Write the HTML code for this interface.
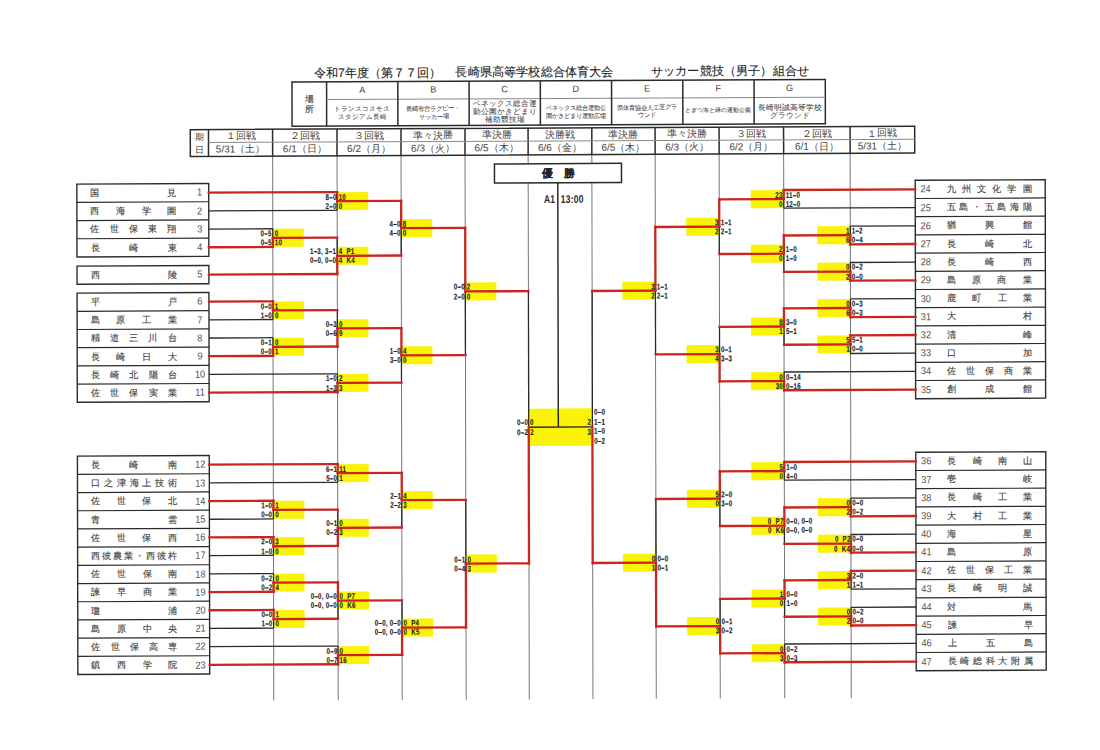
<!DOCTYPE html>
<html lang="ja"><head><meta charset="utf-8"><title>長崎県高校総体 サッカー競技（男子）組合せ</title>
<style>
html,body{margin:0;padding:0;background:#fff;}
body{width:1100px;height:750px;position:relative;overflow:hidden;font-family:"Liberation Sans",sans-serif;color:#333;}
#pg{position:absolute;left:0;top:0;width:1100px;height:750px;transform-origin:550px 375px;transform:matrix(1,-0.0046,0.0021,1,0,0);}
svg{position:absolute;left:0;top:0;}
.t{position:absolute;white-space:nowrap;text-spacing-trim:space-all;}
.ti{color:#222;-webkit-text-stroke:.1px #222;}
.g{color:#444;}
.vn{-webkit-text-stroke:.05px #444;}
.st2{-webkit-text-stroke:.2px #444;}
.n{color:#474747;-webkit-text-stroke:.15px #474747;}
.num{color:#505050;transform:scaleX(.9);}
.num.c{transform-origin:50% 50%;}
.b{font-weight:bold;color:#222;-webkit-text-stroke:.12px #222;}
.sc{font-weight:bold;color:#222;transform:scaleX(.74);letter-spacing:.35px;-webkit-text-stroke:.12px #222;}
.sc.l{transform-origin:0 50%;}
.sc.r{transform-origin:100% 50%;}
.sc2{font-weight:bold;color:#2a2a2a;transform:scaleX(.76);}
.sc2.l{transform-origin:0 50%;letter-spacing:.4px;}
.sc2.r{transform-origin:100% 50%;}
</style></head><body>
<div id="pg">
<svg width="1100" height="750" viewBox="0 0 1100 750">
<line x1="273.10" y1="154.80" x2="273.10" y2="699.30" stroke="#777777" stroke-width="1"/>
<line x1="337.50" y1="154.80" x2="337.50" y2="699.30" stroke="#777777" stroke-width="1"/>
<line x1="401.50" y1="154.80" x2="401.50" y2="699.30" stroke="#777777" stroke-width="1"/>
<line x1="465.50" y1="154.80" x2="465.50" y2="699.30" stroke="#777777" stroke-width="1"/>
<line x1="528.60" y1="154.80" x2="528.60" y2="699.30" stroke="#777777" stroke-width="1"/>
<line x1="592.30" y1="154.80" x2="592.30" y2="699.30" stroke="#777777" stroke-width="1"/>
<line x1="655.60" y1="154.80" x2="655.60" y2="699.30" stroke="#777777" stroke-width="1"/>
<line x1="719.60" y1="154.80" x2="719.60" y2="699.30" stroke="#777777" stroke-width="1"/>
<line x1="784.10" y1="154.80" x2="784.10" y2="699.30" stroke="#777777" stroke-width="1"/>
<line x1="850.60" y1="154.80" x2="850.60" y2="699.30" stroke="#777777" stroke-width="1"/>
<rect x="292.60" y="80.85" width="533.30" height="44.15" fill="#fff" stroke="#2b2b2b" stroke-width="1.5"/>
<line x1="327.20" y1="80.85" x2="327.20" y2="125.00" stroke="#2b2b2b" stroke-width="1.5"/>
<line x1="327.20" y1="98.60" x2="825.90" y2="98.60" stroke="#8a8a8a" stroke-width="1"/>
<line x1="398.44" y1="80.85" x2="398.44" y2="125.00" stroke="#2b2b2b" stroke-width="1.5"/>
<line x1="469.69" y1="80.85" x2="469.69" y2="125.00" stroke="#2b2b2b" stroke-width="1.5"/>
<line x1="540.93" y1="80.85" x2="540.93" y2="125.00" stroke="#2b2b2b" stroke-width="1.5"/>
<line x1="612.17" y1="80.85" x2="612.17" y2="125.00" stroke="#2b2b2b" stroke-width="1.5"/>
<line x1="683.41" y1="80.85" x2="683.41" y2="125.00" stroke="#2b2b2b" stroke-width="1.5"/>
<line x1="754.66" y1="80.85" x2="754.66" y2="125.00" stroke="#2b2b2b" stroke-width="1.5"/>
<rect x="190.80" y="128.00" width="724.40" height="26.80" fill="#fff" stroke="#2b2b2b" stroke-width="1.5"/>
<line x1="209.00" y1="128.00" x2="209.00" y2="154.80" stroke="#2b2b2b" stroke-width="1.5"/>
<line x1="273.10" y1="128.00" x2="273.10" y2="154.80" stroke="#2b2b2b" stroke-width="1.5"/>
<line x1="337.50" y1="128.00" x2="337.50" y2="154.80" stroke="#2b2b2b" stroke-width="1.5"/>
<line x1="401.50" y1="128.00" x2="401.50" y2="154.80" stroke="#2b2b2b" stroke-width="1.5"/>
<line x1="465.50" y1="128.00" x2="465.50" y2="154.80" stroke="#2b2b2b" stroke-width="1.5"/>
<line x1="528.60" y1="128.00" x2="528.60" y2="154.80" stroke="#2b2b2b" stroke-width="1.5"/>
<line x1="592.30" y1="128.00" x2="592.30" y2="154.80" stroke="#2b2b2b" stroke-width="1.5"/>
<line x1="655.60" y1="128.00" x2="655.60" y2="154.80" stroke="#2b2b2b" stroke-width="1.5"/>
<line x1="719.60" y1="128.00" x2="719.60" y2="154.80" stroke="#2b2b2b" stroke-width="1.5"/>
<line x1="784.10" y1="128.00" x2="784.10" y2="154.80" stroke="#2b2b2b" stroke-width="1.5"/>
<line x1="850.60" y1="128.00" x2="850.60" y2="154.80" stroke="#2b2b2b" stroke-width="1.5"/>
<line x1="209.00" y1="141.00" x2="915.20" y2="141.00" stroke="#8a8a8a" stroke-width="1"/>
<rect x="77.25" y="182.00" width="131.85" height="72.80" fill="#fff" stroke="#2b2b2b" stroke-width="1.4"/>
<line x1="77.25" y1="200.20" x2="209.10" y2="200.20" stroke="#2b2b2b" stroke-width="1.2"/>
<line x1="77.25" y1="218.40" x2="209.10" y2="218.40" stroke="#2b2b2b" stroke-width="1.2"/>
<line x1="77.25" y1="236.60" x2="209.10" y2="236.60" stroke="#2b2b2b" stroke-width="1.2"/>
<rect x="77.25" y="263.95" width="131.85" height="18.20" fill="#fff" stroke="#2b2b2b" stroke-width="1.4"/>
<rect x="77.25" y="290.95" width="131.85" height="109.20" fill="#fff" stroke="#2b2b2b" stroke-width="1.4"/>
<line x1="77.25" y1="309.15" x2="209.10" y2="309.15" stroke="#2b2b2b" stroke-width="1.2"/>
<line x1="77.25" y1="327.35" x2="209.10" y2="327.35" stroke="#2b2b2b" stroke-width="1.2"/>
<line x1="77.25" y1="345.55" x2="209.10" y2="345.55" stroke="#2b2b2b" stroke-width="1.2"/>
<line x1="77.25" y1="363.75" x2="209.10" y2="363.75" stroke="#2b2b2b" stroke-width="1.2"/>
<line x1="77.25" y1="381.95" x2="209.10" y2="381.95" stroke="#2b2b2b" stroke-width="1.2"/>
<rect x="77.25" y="454.00" width="131.85" height="218.40" fill="#fff" stroke="#2b2b2b" stroke-width="1.4"/>
<line x1="77.25" y1="472.20" x2="209.10" y2="472.20" stroke="#2b2b2b" stroke-width="1.2"/>
<line x1="77.25" y1="490.40" x2="209.10" y2="490.40" stroke="#2b2b2b" stroke-width="1.2"/>
<line x1="77.25" y1="508.60" x2="209.10" y2="508.60" stroke="#2b2b2b" stroke-width="1.2"/>
<line x1="77.25" y1="526.80" x2="209.10" y2="526.80" stroke="#2b2b2b" stroke-width="1.2"/>
<line x1="77.25" y1="545.00" x2="209.10" y2="545.00" stroke="#2b2b2b" stroke-width="1.2"/>
<line x1="77.25" y1="563.20" x2="209.10" y2="563.20" stroke="#2b2b2b" stroke-width="1.2"/>
<line x1="77.25" y1="581.40" x2="209.10" y2="581.40" stroke="#2b2b2b" stroke-width="1.2"/>
<line x1="77.25" y1="599.60" x2="209.10" y2="599.60" stroke="#2b2b2b" stroke-width="1.2"/>
<line x1="77.25" y1="617.80" x2="209.10" y2="617.80" stroke="#2b2b2b" stroke-width="1.2"/>
<line x1="77.25" y1="636.00" x2="209.10" y2="636.00" stroke="#2b2b2b" stroke-width="1.2"/>
<line x1="77.25" y1="654.20" x2="209.10" y2="654.20" stroke="#2b2b2b" stroke-width="1.2"/>
<rect x="915.60" y="182.00" width="130.00" height="218.40" fill="#fff" stroke="#2b2b2b" stroke-width="1.4"/>
<line x1="915.60" y1="200.20" x2="1045.60" y2="200.20" stroke="#2b2b2b" stroke-width="1.2"/>
<line x1="915.60" y1="218.40" x2="1045.60" y2="218.40" stroke="#2b2b2b" stroke-width="1.2"/>
<line x1="915.60" y1="236.60" x2="1045.60" y2="236.60" stroke="#2b2b2b" stroke-width="1.2"/>
<line x1="915.60" y1="254.80" x2="1045.60" y2="254.80" stroke="#2b2b2b" stroke-width="1.2"/>
<line x1="915.60" y1="273.00" x2="1045.60" y2="273.00" stroke="#2b2b2b" stroke-width="1.2"/>
<line x1="915.60" y1="291.20" x2="1045.60" y2="291.20" stroke="#2b2b2b" stroke-width="1.2"/>
<line x1="915.60" y1="309.40" x2="1045.60" y2="309.40" stroke="#2b2b2b" stroke-width="1.2"/>
<line x1="915.60" y1="327.60" x2="1045.60" y2="327.60" stroke="#2b2b2b" stroke-width="1.2"/>
<line x1="915.60" y1="345.80" x2="1045.60" y2="345.80" stroke="#2b2b2b" stroke-width="1.2"/>
<line x1="915.60" y1="364.00" x2="1045.60" y2="364.00" stroke="#2b2b2b" stroke-width="1.2"/>
<line x1="915.60" y1="382.20" x2="1045.60" y2="382.20" stroke="#2b2b2b" stroke-width="1.2"/>
<rect x="915.60" y="454.00" width="130.00" height="218.40" fill="#fff" stroke="#2b2b2b" stroke-width="1.4"/>
<line x1="915.60" y1="472.20" x2="1045.60" y2="472.20" stroke="#2b2b2b" stroke-width="1.2"/>
<line x1="915.60" y1="490.40" x2="1045.60" y2="490.40" stroke="#2b2b2b" stroke-width="1.2"/>
<line x1="915.60" y1="508.60" x2="1045.60" y2="508.60" stroke="#2b2b2b" stroke-width="1.2"/>
<line x1="915.60" y1="526.80" x2="1045.60" y2="526.80" stroke="#2b2b2b" stroke-width="1.2"/>
<line x1="915.60" y1="545.00" x2="1045.60" y2="545.00" stroke="#2b2b2b" stroke-width="1.2"/>
<line x1="915.60" y1="563.20" x2="1045.60" y2="563.20" stroke="#2b2b2b" stroke-width="1.2"/>
<line x1="915.60" y1="581.40" x2="1045.60" y2="581.40" stroke="#2b2b2b" stroke-width="1.2"/>
<line x1="915.60" y1="599.60" x2="1045.60" y2="599.60" stroke="#2b2b2b" stroke-width="1.2"/>
<line x1="915.60" y1="617.80" x2="1045.60" y2="617.80" stroke="#2b2b2b" stroke-width="1.2"/>
<line x1="915.60" y1="636.00" x2="1045.60" y2="636.00" stroke="#2b2b2b" stroke-width="1.2"/>
<line x1="915.60" y1="654.20" x2="1045.60" y2="654.20" stroke="#2b2b2b" stroke-width="1.2"/>
<rect x="273.10" y="227.60" width="31.00" height="18.00" fill="#fbf20a"/>
<rect x="273.10" y="300.15" width="31.00" height="18.00" fill="#fbf20a"/>
<rect x="273.10" y="336.55" width="31.00" height="18.00" fill="#fbf20a"/>
<rect x="273.10" y="499.60" width="31.00" height="18.00" fill="#fbf20a"/>
<rect x="273.10" y="536.00" width="31.00" height="18.00" fill="#fbf20a"/>
<rect x="273.10" y="572.40" width="31.00" height="18.00" fill="#fbf20a"/>
<rect x="273.10" y="608.80" width="31.00" height="18.00" fill="#fbf20a"/>
<rect x="337.50" y="191.20" width="31.00" height="18.00" fill="#fbf20a"/>
<rect x="337.50" y="245.82" width="31.00" height="18.00" fill="#fbf20a"/>
<rect x="337.50" y="318.35" width="31.00" height="18.00" fill="#fbf20a"/>
<rect x="337.50" y="372.95" width="31.00" height="18.00" fill="#fbf20a"/>
<rect x="337.50" y="463.20" width="31.00" height="18.00" fill="#fbf20a"/>
<rect x="337.50" y="517.80" width="31.00" height="18.00" fill="#fbf20a"/>
<rect x="337.50" y="590.60" width="31.00" height="18.00" fill="#fbf20a"/>
<rect x="337.50" y="645.20" width="31.00" height="18.00" fill="#fbf20a"/>
<rect x="401.50" y="218.51" width="31.00" height="18.00" fill="#fbf20a"/>
<rect x="401.50" y="345.65" width="31.00" height="18.00" fill="#fbf20a"/>
<rect x="401.50" y="490.50" width="31.00" height="18.00" fill="#fbf20a"/>
<rect x="401.50" y="617.90" width="31.00" height="18.00" fill="#fbf20a"/>
<rect x="465.50" y="282.08" width="31.00" height="18.00" fill="#fbf20a"/>
<rect x="465.50" y="554.20" width="31.00" height="18.00" fill="#fbf20a"/>
<rect x="817.60" y="227.60" width="33.00" height="18.00" fill="#fbf20a"/>
<rect x="817.60" y="264.00" width="33.00" height="18.00" fill="#fbf20a"/>
<rect x="817.60" y="300.40" width="33.00" height="18.00" fill="#fbf20a"/>
<rect x="817.60" y="336.80" width="33.00" height="18.00" fill="#fbf20a"/>
<rect x="817.60" y="499.60" width="33.00" height="18.00" fill="#fbf20a"/>
<rect x="817.60" y="536.00" width="33.00" height="18.00" fill="#fbf20a"/>
<rect x="817.60" y="572.40" width="33.00" height="18.00" fill="#fbf20a"/>
<rect x="817.60" y="608.80" width="33.00" height="18.00" fill="#fbf20a"/>
<rect x="751.10" y="191.20" width="33.00" height="18.00" fill="#fbf20a"/>
<rect x="751.10" y="245.80" width="33.00" height="18.00" fill="#fbf20a"/>
<rect x="751.10" y="318.60" width="33.00" height="18.00" fill="#fbf20a"/>
<rect x="751.10" y="373.20" width="33.00" height="18.00" fill="#fbf20a"/>
<rect x="751.10" y="463.20" width="33.00" height="18.00" fill="#fbf20a"/>
<rect x="751.10" y="517.80" width="33.00" height="18.00" fill="#fbf20a"/>
<rect x="751.10" y="590.60" width="33.00" height="18.00" fill="#fbf20a"/>
<rect x="751.10" y="645.20" width="33.00" height="18.00" fill="#fbf20a"/>
<rect x="686.60" y="218.50" width="33.00" height="18.00" fill="#fbf20a"/>
<rect x="686.60" y="345.90" width="33.00" height="18.00" fill="#fbf20a"/>
<rect x="686.60" y="490.50" width="33.00" height="18.00" fill="#fbf20a"/>
<rect x="686.60" y="617.90" width="33.00" height="18.00" fill="#fbf20a"/>
<rect x="622.60" y="282.20" width="33.00" height="18.00" fill="#fbf20a"/>
<rect x="622.60" y="554.20" width="33.00" height="18.00" fill="#fbf20a"/>
<rect x="528.60" y="408.54" width="63.70" height="37.30" fill="#fbf20a"/>
<line x1="209.10" y1="209.30" x2="337.50" y2="209.30" stroke="#2b2b2b" stroke-width="1.3"/>
<line x1="209.10" y1="227.50" x2="273.10" y2="227.50" stroke="#2b2b2b" stroke-width="1.3"/>
<line x1="209.10" y1="318.25" x2="273.10" y2="318.25" stroke="#2b2b2b" stroke-width="1.3"/>
<line x1="209.10" y1="336.45" x2="273.10" y2="336.45" stroke="#2b2b2b" stroke-width="1.3"/>
<line x1="209.10" y1="372.85" x2="337.50" y2="372.85" stroke="#2b2b2b" stroke-width="1.3"/>
<line x1="209.10" y1="481.30" x2="337.50" y2="481.30" stroke="#2b2b2b" stroke-width="1.3"/>
<line x1="209.10" y1="517.70" x2="273.10" y2="517.70" stroke="#2b2b2b" stroke-width="1.3"/>
<line x1="209.10" y1="554.10" x2="273.10" y2="554.10" stroke="#2b2b2b" stroke-width="1.3"/>
<line x1="209.10" y1="572.30" x2="273.10" y2="572.30" stroke="#2b2b2b" stroke-width="1.3"/>
<line x1="209.10" y1="626.90" x2="273.10" y2="626.90" stroke="#2b2b2b" stroke-width="1.3"/>
<line x1="209.10" y1="645.10" x2="337.50" y2="645.10" stroke="#2b2b2b" stroke-width="1.3"/>
<line x1="784.10" y1="209.30" x2="915.60" y2="209.30" stroke="#2b2b2b" stroke-width="1.3"/>
<line x1="850.60" y1="227.50" x2="915.60" y2="227.50" stroke="#2b2b2b" stroke-width="1.3"/>
<line x1="850.60" y1="263.90" x2="915.60" y2="263.90" stroke="#2b2b2b" stroke-width="1.3"/>
<line x1="850.60" y1="300.30" x2="915.60" y2="300.30" stroke="#2b2b2b" stroke-width="1.3"/>
<line x1="850.60" y1="354.90" x2="915.60" y2="354.90" stroke="#2b2b2b" stroke-width="1.3"/>
<line x1="784.10" y1="373.10" x2="915.60" y2="373.10" stroke="#2b2b2b" stroke-width="1.3"/>
<line x1="784.10" y1="481.30" x2="915.60" y2="481.30" stroke="#2b2b2b" stroke-width="1.3"/>
<line x1="850.60" y1="499.50" x2="915.60" y2="499.50" stroke="#2b2b2b" stroke-width="1.3"/>
<line x1="850.60" y1="535.90" x2="915.60" y2="535.90" stroke="#2b2b2b" stroke-width="1.3"/>
<line x1="850.60" y1="590.50" x2="915.60" y2="590.50" stroke="#2b2b2b" stroke-width="1.3"/>
<line x1="850.60" y1="608.70" x2="915.60" y2="608.70" stroke="#2b2b2b" stroke-width="1.3"/>
<line x1="784.10" y1="645.10" x2="915.60" y2="645.10" stroke="#2b2b2b" stroke-width="1.3"/>
<line x1="273.10" y1="227.50" x2="273.10" y2="236.60" stroke="#2b2b2b" stroke-width="1.3"/>
<line x1="273.10" y1="309.15" x2="273.10" y2="318.25" stroke="#2b2b2b" stroke-width="1.3"/>
<line x1="273.10" y1="336.45" x2="273.10" y2="345.55" stroke="#2b2b2b" stroke-width="1.3"/>
<line x1="273.10" y1="508.60" x2="273.10" y2="517.70" stroke="#2b2b2b" stroke-width="1.3"/>
<line x1="273.10" y1="545.00" x2="273.10" y2="554.10" stroke="#2b2b2b" stroke-width="1.3"/>
<line x1="273.10" y1="572.30" x2="273.10" y2="581.40" stroke="#2b2b2b" stroke-width="1.3"/>
<line x1="273.10" y1="617.80" x2="273.10" y2="626.90" stroke="#2b2b2b" stroke-width="1.3"/>
<line x1="337.50" y1="200.20" x2="337.50" y2="209.30" stroke="#2b2b2b" stroke-width="1.3"/>
<line x1="337.50" y1="236.60" x2="337.50" y2="254.82" stroke="#2b2b2b" stroke-width="1.3"/>
<line x1="337.50" y1="309.15" x2="337.50" y2="327.35" stroke="#2b2b2b" stroke-width="1.3"/>
<line x1="337.50" y1="372.85" x2="337.50" y2="381.95" stroke="#2b2b2b" stroke-width="1.3"/>
<line x1="337.50" y1="472.20" x2="337.50" y2="481.30" stroke="#2b2b2b" stroke-width="1.3"/>
<line x1="337.50" y1="508.60" x2="337.50" y2="526.80" stroke="#2b2b2b" stroke-width="1.3"/>
<line x1="337.50" y1="599.60" x2="337.50" y2="617.80" stroke="#2b2b2b" stroke-width="1.3"/>
<line x1="337.50" y1="645.10" x2="337.50" y2="654.20" stroke="#2b2b2b" stroke-width="1.3"/>
<line x1="401.50" y1="227.51" x2="401.50" y2="254.82" stroke="#2b2b2b" stroke-width="1.3"/>
<line x1="401.50" y1="354.65" x2="401.50" y2="381.95" stroke="#2b2b2b" stroke-width="1.3"/>
<line x1="401.50" y1="499.50" x2="401.50" y2="526.80" stroke="#2b2b2b" stroke-width="1.3"/>
<line x1="401.50" y1="599.60" x2="401.50" y2="626.90" stroke="#2b2b2b" stroke-width="1.3"/>
<line x1="465.50" y1="291.08" x2="465.50" y2="354.65" stroke="#2b2b2b" stroke-width="1.3"/>
<line x1="465.50" y1="499.50" x2="465.50" y2="563.20" stroke="#2b2b2b" stroke-width="1.3"/>
<line x1="850.60" y1="227.50" x2="850.60" y2="236.60" stroke="#2b2b2b" stroke-width="1.3"/>
<line x1="850.60" y1="263.90" x2="850.60" y2="273.00" stroke="#2b2b2b" stroke-width="1.3"/>
<line x1="850.60" y1="300.30" x2="850.60" y2="309.40" stroke="#2b2b2b" stroke-width="1.3"/>
<line x1="850.60" y1="345.80" x2="850.60" y2="354.90" stroke="#2b2b2b" stroke-width="1.3"/>
<line x1="850.60" y1="499.50" x2="850.60" y2="508.60" stroke="#2b2b2b" stroke-width="1.3"/>
<line x1="850.60" y1="535.90" x2="850.60" y2="545.00" stroke="#2b2b2b" stroke-width="1.3"/>
<line x1="850.60" y1="581.40" x2="850.60" y2="590.50" stroke="#2b2b2b" stroke-width="1.3"/>
<line x1="850.60" y1="608.70" x2="850.60" y2="617.80" stroke="#2b2b2b" stroke-width="1.3"/>
<line x1="784.10" y1="200.20" x2="784.10" y2="209.30" stroke="#2b2b2b" stroke-width="1.3"/>
<line x1="784.10" y1="254.80" x2="784.10" y2="273.00" stroke="#2b2b2b" stroke-width="1.3"/>
<line x1="784.10" y1="327.60" x2="784.10" y2="345.80" stroke="#2b2b2b" stroke-width="1.3"/>
<line x1="784.10" y1="373.10" x2="784.10" y2="382.20" stroke="#2b2b2b" stroke-width="1.3"/>
<line x1="784.10" y1="472.20" x2="784.10" y2="481.30" stroke="#2b2b2b" stroke-width="1.3"/>
<line x1="784.10" y1="526.80" x2="784.10" y2="545.00" stroke="#2b2b2b" stroke-width="1.3"/>
<line x1="784.10" y1="599.60" x2="784.10" y2="617.80" stroke="#2b2b2b" stroke-width="1.3"/>
<line x1="784.10" y1="645.10" x2="784.10" y2="654.20" stroke="#2b2b2b" stroke-width="1.3"/>
<line x1="719.60" y1="227.50" x2="719.60" y2="254.80" stroke="#2b2b2b" stroke-width="1.3"/>
<line x1="719.60" y1="327.60" x2="719.60" y2="354.90" stroke="#2b2b2b" stroke-width="1.3"/>
<line x1="719.60" y1="499.50" x2="719.60" y2="526.80" stroke="#2b2b2b" stroke-width="1.3"/>
<line x1="719.60" y1="599.60" x2="719.60" y2="626.90" stroke="#2b2b2b" stroke-width="1.3"/>
<line x1="655.60" y1="291.20" x2="655.60" y2="354.90" stroke="#2b2b2b" stroke-width="1.3"/>
<line x1="655.60" y1="499.50" x2="655.60" y2="563.20" stroke="#2b2b2b" stroke-width="1.3"/>
<line x1="528.60" y1="291.08" x2="528.60" y2="427.14" stroke="#2b2b2b" stroke-width="1.3"/>
<line x1="592.30" y1="291.20" x2="592.30" y2="427.14" stroke="#2b2b2b" stroke-width="1.3"/>
<line x1="528.60" y1="427.14" x2="592.30" y2="427.14" stroke="#2b2b2b" stroke-width="1.3"/>
<line x1="209.10" y1="191.10" x2="337.50" y2="191.10" stroke="#c8261e" stroke-width="2.3" stroke-linecap="square"/>
<line x1="209.10" y1="245.70" x2="273.10" y2="245.70" stroke="#c8261e" stroke-width="2.3" stroke-linecap="square"/>
<line x1="209.10" y1="273.05" x2="337.50" y2="273.05" stroke="#c8261e" stroke-width="2.3" stroke-linecap="square"/>
<line x1="209.10" y1="300.05" x2="273.10" y2="300.05" stroke="#c8261e" stroke-width="2.3" stroke-linecap="square"/>
<line x1="209.10" y1="354.65" x2="273.10" y2="354.65" stroke="#c8261e" stroke-width="2.3" stroke-linecap="square"/>
<line x1="209.10" y1="391.05" x2="337.50" y2="391.05" stroke="#c8261e" stroke-width="2.3" stroke-linecap="square"/>
<line x1="209.10" y1="463.10" x2="337.50" y2="463.10" stroke="#c8261e" stroke-width="2.3" stroke-linecap="square"/>
<line x1="209.10" y1="499.50" x2="273.10" y2="499.50" stroke="#c8261e" stroke-width="2.3" stroke-linecap="square"/>
<line x1="209.10" y1="535.90" x2="273.10" y2="535.90" stroke="#c8261e" stroke-width="2.3" stroke-linecap="square"/>
<line x1="209.10" y1="590.50" x2="273.10" y2="590.50" stroke="#c8261e" stroke-width="2.3" stroke-linecap="square"/>
<line x1="209.10" y1="608.70" x2="273.10" y2="608.70" stroke="#c8261e" stroke-width="2.3" stroke-linecap="square"/>
<line x1="209.10" y1="663.30" x2="337.50" y2="663.30" stroke="#c8261e" stroke-width="2.3" stroke-linecap="square"/>
<line x1="784.10" y1="191.10" x2="915.60" y2="191.10" stroke="#c8261e" stroke-width="2.3" stroke-linecap="square"/>
<line x1="850.60" y1="245.70" x2="915.60" y2="245.70" stroke="#c8261e" stroke-width="2.3" stroke-linecap="square"/>
<line x1="850.60" y1="282.10" x2="915.60" y2="282.10" stroke="#c8261e" stroke-width="2.3" stroke-linecap="square"/>
<line x1="850.60" y1="318.50" x2="915.60" y2="318.50" stroke="#c8261e" stroke-width="2.3" stroke-linecap="square"/>
<line x1="850.60" y1="336.70" x2="915.60" y2="336.70" stroke="#c8261e" stroke-width="2.3" stroke-linecap="square"/>
<line x1="784.10" y1="391.30" x2="915.60" y2="391.30" stroke="#c8261e" stroke-width="2.3" stroke-linecap="square"/>
<line x1="784.10" y1="463.10" x2="915.60" y2="463.10" stroke="#c8261e" stroke-width="2.3" stroke-linecap="square"/>
<line x1="850.60" y1="517.70" x2="915.60" y2="517.70" stroke="#c8261e" stroke-width="2.3" stroke-linecap="square"/>
<line x1="850.60" y1="554.10" x2="915.60" y2="554.10" stroke="#c8261e" stroke-width="2.3" stroke-linecap="square"/>
<line x1="850.60" y1="572.30" x2="915.60" y2="572.30" stroke="#c8261e" stroke-width="2.3" stroke-linecap="square"/>
<line x1="850.60" y1="626.90" x2="915.60" y2="626.90" stroke="#c8261e" stroke-width="2.3" stroke-linecap="square"/>
<line x1="784.10" y1="663.30" x2="915.60" y2="663.30" stroke="#c8261e" stroke-width="2.3" stroke-linecap="square"/>
<line x1="273.10" y1="236.60" x2="273.10" y2="245.70" stroke="#c8261e" stroke-width="2.3" stroke-linecap="square"/>
<line x1="273.10" y1="236.60" x2="337.50" y2="236.60" stroke="#c8261e" stroke-width="2.3" stroke-linecap="square"/>
<line x1="273.10" y1="300.05" x2="273.10" y2="309.15" stroke="#c8261e" stroke-width="2.3" stroke-linecap="square"/>
<line x1="273.10" y1="309.15" x2="337.50" y2="309.15" stroke="#c8261e" stroke-width="2.3" stroke-linecap="square"/>
<line x1="273.10" y1="345.55" x2="273.10" y2="354.65" stroke="#c8261e" stroke-width="2.3" stroke-linecap="square"/>
<line x1="273.10" y1="345.55" x2="337.50" y2="345.55" stroke="#c8261e" stroke-width="2.3" stroke-linecap="square"/>
<line x1="273.10" y1="499.50" x2="273.10" y2="508.60" stroke="#c8261e" stroke-width="2.3" stroke-linecap="square"/>
<line x1="273.10" y1="508.60" x2="337.50" y2="508.60" stroke="#c8261e" stroke-width="2.3" stroke-linecap="square"/>
<line x1="273.10" y1="535.90" x2="273.10" y2="545.00" stroke="#c8261e" stroke-width="2.3" stroke-linecap="square"/>
<line x1="273.10" y1="545.00" x2="337.50" y2="545.00" stroke="#c8261e" stroke-width="2.3" stroke-linecap="square"/>
<line x1="273.10" y1="581.40" x2="273.10" y2="590.50" stroke="#c8261e" stroke-width="2.3" stroke-linecap="square"/>
<line x1="273.10" y1="581.40" x2="337.50" y2="581.40" stroke="#c8261e" stroke-width="2.3" stroke-linecap="square"/>
<line x1="273.10" y1="608.70" x2="273.10" y2="617.80" stroke="#c8261e" stroke-width="2.3" stroke-linecap="square"/>
<line x1="273.10" y1="617.80" x2="337.50" y2="617.80" stroke="#c8261e" stroke-width="2.3" stroke-linecap="square"/>
<line x1="337.50" y1="191.10" x2="337.50" y2="200.20" stroke="#c8261e" stroke-width="2.3" stroke-linecap="square"/>
<line x1="337.50" y1="200.20" x2="401.50" y2="200.20" stroke="#c8261e" stroke-width="2.3" stroke-linecap="square"/>
<line x1="337.50" y1="254.82" x2="337.50" y2="273.05" stroke="#c8261e" stroke-width="2.3" stroke-linecap="square"/>
<line x1="337.50" y1="254.82" x2="401.50" y2="254.82" stroke="#c8261e" stroke-width="2.3" stroke-linecap="square"/>
<line x1="337.50" y1="327.35" x2="337.50" y2="345.55" stroke="#c8261e" stroke-width="2.3" stroke-linecap="square"/>
<line x1="337.50" y1="327.35" x2="401.50" y2="327.35" stroke="#c8261e" stroke-width="2.3" stroke-linecap="square"/>
<line x1="337.50" y1="381.95" x2="337.50" y2="391.05" stroke="#c8261e" stroke-width="2.3" stroke-linecap="square"/>
<line x1="337.50" y1="381.95" x2="401.50" y2="381.95" stroke="#c8261e" stroke-width="2.3" stroke-linecap="square"/>
<line x1="337.50" y1="463.10" x2="337.50" y2="472.20" stroke="#c8261e" stroke-width="2.3" stroke-linecap="square"/>
<line x1="337.50" y1="472.20" x2="401.50" y2="472.20" stroke="#c8261e" stroke-width="2.3" stroke-linecap="square"/>
<line x1="337.50" y1="526.80" x2="337.50" y2="545.00" stroke="#c8261e" stroke-width="2.3" stroke-linecap="square"/>
<line x1="337.50" y1="526.80" x2="401.50" y2="526.80" stroke="#c8261e" stroke-width="2.3" stroke-linecap="square"/>
<line x1="337.50" y1="581.40" x2="337.50" y2="599.60" stroke="#c8261e" stroke-width="2.3" stroke-linecap="square"/>
<line x1="337.50" y1="599.60" x2="401.50" y2="599.60" stroke="#c8261e" stroke-width="2.3" stroke-linecap="square"/>
<line x1="337.50" y1="654.20" x2="337.50" y2="663.30" stroke="#c8261e" stroke-width="2.3" stroke-linecap="square"/>
<line x1="337.50" y1="654.20" x2="401.50" y2="654.20" stroke="#c8261e" stroke-width="2.3" stroke-linecap="square"/>
<line x1="401.50" y1="200.20" x2="401.50" y2="227.51" stroke="#c8261e" stroke-width="2.3" stroke-linecap="square"/>
<line x1="401.50" y1="227.51" x2="465.50" y2="227.51" stroke="#c8261e" stroke-width="2.3" stroke-linecap="square"/>
<line x1="401.50" y1="327.35" x2="401.50" y2="354.65" stroke="#c8261e" stroke-width="2.3" stroke-linecap="square"/>
<line x1="401.50" y1="354.65" x2="465.50" y2="354.65" stroke="#c8261e" stroke-width="2.3" stroke-linecap="square"/>
<line x1="401.50" y1="472.20" x2="401.50" y2="499.50" stroke="#c8261e" stroke-width="2.3" stroke-linecap="square"/>
<line x1="401.50" y1="499.50" x2="465.50" y2="499.50" stroke="#c8261e" stroke-width="2.3" stroke-linecap="square"/>
<line x1="401.50" y1="626.90" x2="401.50" y2="654.20" stroke="#c8261e" stroke-width="2.3" stroke-linecap="square"/>
<line x1="401.50" y1="626.90" x2="465.50" y2="626.90" stroke="#c8261e" stroke-width="2.3" stroke-linecap="square"/>
<line x1="465.50" y1="227.51" x2="465.50" y2="291.08" stroke="#c8261e" stroke-width="2.3" stroke-linecap="square"/>
<line x1="465.50" y1="291.08" x2="528.60" y2="291.08" stroke="#c8261e" stroke-width="2.3" stroke-linecap="square"/>
<line x1="465.50" y1="563.20" x2="465.50" y2="626.90" stroke="#c8261e" stroke-width="2.3" stroke-linecap="square"/>
<line x1="465.50" y1="563.20" x2="528.60" y2="563.20" stroke="#c8261e" stroke-width="2.3" stroke-linecap="square"/>
<line x1="850.60" y1="236.60" x2="850.60" y2="245.70" stroke="#c8261e" stroke-width="2.3" stroke-linecap="square"/>
<line x1="784.10" y1="236.60" x2="850.60" y2="236.60" stroke="#c8261e" stroke-width="2.3" stroke-linecap="square"/>
<line x1="850.60" y1="273.00" x2="850.60" y2="282.10" stroke="#c8261e" stroke-width="2.3" stroke-linecap="square"/>
<line x1="784.10" y1="273.00" x2="850.60" y2="273.00" stroke="#c8261e" stroke-width="2.3" stroke-linecap="square"/>
<line x1="850.60" y1="309.40" x2="850.60" y2="318.50" stroke="#c8261e" stroke-width="2.3" stroke-linecap="square"/>
<line x1="784.10" y1="309.40" x2="850.60" y2="309.40" stroke="#c8261e" stroke-width="2.3" stroke-linecap="square"/>
<line x1="850.60" y1="336.70" x2="850.60" y2="345.80" stroke="#c8261e" stroke-width="2.3" stroke-linecap="square"/>
<line x1="784.10" y1="345.80" x2="850.60" y2="345.80" stroke="#c8261e" stroke-width="2.3" stroke-linecap="square"/>
<line x1="850.60" y1="508.60" x2="850.60" y2="517.70" stroke="#c8261e" stroke-width="2.3" stroke-linecap="square"/>
<line x1="784.10" y1="508.60" x2="850.60" y2="508.60" stroke="#c8261e" stroke-width="2.3" stroke-linecap="square"/>
<line x1="850.60" y1="545.00" x2="850.60" y2="554.10" stroke="#c8261e" stroke-width="2.3" stroke-linecap="square"/>
<line x1="784.10" y1="545.00" x2="850.60" y2="545.00" stroke="#c8261e" stroke-width="2.3" stroke-linecap="square"/>
<line x1="850.60" y1="572.30" x2="850.60" y2="581.40" stroke="#c8261e" stroke-width="2.3" stroke-linecap="square"/>
<line x1="784.10" y1="581.40" x2="850.60" y2="581.40" stroke="#c8261e" stroke-width="2.3" stroke-linecap="square"/>
<line x1="850.60" y1="617.80" x2="850.60" y2="626.90" stroke="#c8261e" stroke-width="2.3" stroke-linecap="square"/>
<line x1="784.10" y1="617.80" x2="850.60" y2="617.80" stroke="#c8261e" stroke-width="2.3" stroke-linecap="square"/>
<line x1="784.10" y1="191.10" x2="784.10" y2="200.20" stroke="#c8261e" stroke-width="2.3" stroke-linecap="square"/>
<line x1="719.60" y1="200.20" x2="784.10" y2="200.20" stroke="#c8261e" stroke-width="2.3" stroke-linecap="square"/>
<line x1="784.10" y1="236.60" x2="784.10" y2="254.80" stroke="#c8261e" stroke-width="2.3" stroke-linecap="square"/>
<line x1="719.60" y1="254.80" x2="784.10" y2="254.80" stroke="#c8261e" stroke-width="2.3" stroke-linecap="square"/>
<line x1="784.10" y1="309.40" x2="784.10" y2="327.60" stroke="#c8261e" stroke-width="2.3" stroke-linecap="square"/>
<line x1="719.60" y1="327.60" x2="784.10" y2="327.60" stroke="#c8261e" stroke-width="2.3" stroke-linecap="square"/>
<line x1="784.10" y1="382.20" x2="784.10" y2="391.30" stroke="#c8261e" stroke-width="2.3" stroke-linecap="square"/>
<line x1="719.60" y1="382.20" x2="784.10" y2="382.20" stroke="#c8261e" stroke-width="2.3" stroke-linecap="square"/>
<line x1="784.10" y1="463.10" x2="784.10" y2="472.20" stroke="#c8261e" stroke-width="2.3" stroke-linecap="square"/>
<line x1="719.60" y1="472.20" x2="784.10" y2="472.20" stroke="#c8261e" stroke-width="2.3" stroke-linecap="square"/>
<line x1="784.10" y1="508.60" x2="784.10" y2="526.80" stroke="#c8261e" stroke-width="2.3" stroke-linecap="square"/>
<line x1="719.60" y1="526.80" x2="784.10" y2="526.80" stroke="#c8261e" stroke-width="2.3" stroke-linecap="square"/>
<line x1="784.10" y1="581.40" x2="784.10" y2="599.60" stroke="#c8261e" stroke-width="2.3" stroke-linecap="square"/>
<line x1="719.60" y1="599.60" x2="784.10" y2="599.60" stroke="#c8261e" stroke-width="2.3" stroke-linecap="square"/>
<line x1="784.10" y1="654.20" x2="784.10" y2="663.30" stroke="#c8261e" stroke-width="2.3" stroke-linecap="square"/>
<line x1="719.60" y1="654.20" x2="784.10" y2="654.20" stroke="#c8261e" stroke-width="2.3" stroke-linecap="square"/>
<line x1="719.60" y1="200.20" x2="719.60" y2="227.50" stroke="#c8261e" stroke-width="2.3" stroke-linecap="square"/>
<line x1="655.60" y1="227.50" x2="719.60" y2="227.50" stroke="#c8261e" stroke-width="2.3" stroke-linecap="square"/>
<line x1="719.60" y1="354.90" x2="719.60" y2="382.20" stroke="#c8261e" stroke-width="2.3" stroke-linecap="square"/>
<line x1="655.60" y1="354.90" x2="719.60" y2="354.90" stroke="#c8261e" stroke-width="2.3" stroke-linecap="square"/>
<line x1="719.60" y1="472.20" x2="719.60" y2="499.50" stroke="#c8261e" stroke-width="2.3" stroke-linecap="square"/>
<line x1="655.60" y1="499.50" x2="719.60" y2="499.50" stroke="#c8261e" stroke-width="2.3" stroke-linecap="square"/>
<line x1="719.60" y1="626.90" x2="719.60" y2="654.20" stroke="#c8261e" stroke-width="2.3" stroke-linecap="square"/>
<line x1="655.60" y1="626.90" x2="719.60" y2="626.90" stroke="#c8261e" stroke-width="2.3" stroke-linecap="square"/>
<line x1="655.60" y1="227.50" x2="655.60" y2="291.20" stroke="#c8261e" stroke-width="2.3" stroke-linecap="square"/>
<line x1="592.30" y1="291.20" x2="655.60" y2="291.20" stroke="#c8261e" stroke-width="2.3" stroke-linecap="square"/>
<line x1="655.60" y1="563.20" x2="655.60" y2="626.90" stroke="#c8261e" stroke-width="2.3" stroke-linecap="square"/>
<line x1="592.30" y1="563.20" x2="655.60" y2="563.20" stroke="#c8261e" stroke-width="2.3" stroke-linecap="square"/>
<line x1="528.60" y1="427.14" x2="528.60" y2="563.20" stroke="#c8261e" stroke-width="2.3" stroke-linecap="square"/>
<line x1="592.30" y1="427.14" x2="592.30" y2="563.20" stroke="#c8261e" stroke-width="2.3" stroke-linecap="square"/>
<line x1="558.20" y1="182.80" x2="558.20" y2="427.14" stroke="#2b2b2b" stroke-width="1.5"/>
<rect x="494.90" y="163.70" width="127.00" height="19.10" fill="#fff" stroke="#2b2b2b" stroke-width="1.5"/>
</svg>
<div class="t ti" style="left:314.60px;width:122.00px;text-align:justify;text-align-last:justify;top:65.48px;font-size:12.2px;line-height:14.64px;">令和7年度（第７７回）</div>
<div class="t ti" style="left:456.10px;width:158.00px;text-align:justify;text-align-last:justify;top:65.48px;font-size:12.2px;line-height:14.64px;">長崎県高等学校総合体育大会</div>
<div class="t ti" style="left:651.60px;width:158.00px;text-align:justify;text-align-last:justify;top:65.48px;font-size:12.2px;line-height:14.64px;">サッカー競技（男子）組合せ</div>
<div class="t g" style="left:262.82px;width:200px;text-align:center;top:84.18px;font-size:9.2px;line-height:11.04px;">A</div>
<div class="t g vn" style="left:262.82px;width:200px;text-align:center;top:103.84px;font-size:6.5px;line-height:7.80px;">トランスコスモス</div>
<div class="t g vn" style="left:262.82px;width:200px;text-align:center;top:111.74px;font-size:6.5px;line-height:7.80px;">スタジアム長崎</div>
<div class="t g" style="left:334.06px;width:200px;text-align:center;top:84.18px;font-size:9.2px;line-height:11.04px;">B</div>
<div class="t g vn" style="left:334.06px;width:200px;text-align:center;top:104.29px;font-size:6.3px;line-height:7.56px;">長崎市営ラグビー・</div>
<div class="t g vn" style="left:334.06px;width:200px;text-align:center;top:112.19px;font-size:6.3px;line-height:7.56px;">サッカー場</div>
<div class="t g" style="left:405.31px;width:200px;text-align:center;top:84.18px;font-size:9.2px;line-height:11.04px;">C</div>
<div class="t g vn" style="left:405.31px;width:200px;text-align:center;top:99.43px;font-size:7.6px;line-height:9.12px;">ベネックス総合運</div>
<div class="t g vn" style="left:405.31px;width:200px;text-align:center;top:107.33px;font-size:7.6px;line-height:9.12px;">動公園かきどまり</div>
<div class="t g vn" style="left:405.31px;width:200px;text-align:center;top:115.43px;font-size:7.6px;line-height:9.12px;">補助競技場</div>
<div class="t g" style="left:476.55px;width:200px;text-align:center;top:84.18px;font-size:9.2px;line-height:11.04px;">D</div>
<div class="t g vn" style="left:476.55px;width:200px;text-align:center;top:104.40px;font-size:6.2px;line-height:7.44px;">ベネックス総合運動公</div>
<div class="t g vn" style="left:476.55px;width:200px;text-align:center;top:112.20px;font-size:6.2px;line-height:7.44px;">園かきどまり運動広場</div>
<div class="t g" style="left:547.79px;width:200px;text-align:center;top:84.18px;font-size:9.2px;line-height:11.04px;">E</div>
<div class="t g vn" style="left:547.79px;width:200px;text-align:center;top:104.27px;font-size:6.3px;line-height:7.56px;">県体育協会人工芝グラ</div>
<div class="t g vn" style="left:547.79px;width:200px;text-align:center;top:111.47px;font-size:6.3px;line-height:7.56px;">ウンド</div>
<div class="t g" style="left:619.04px;width:200px;text-align:center;top:84.18px;font-size:9.2px;line-height:11.04px;">F</div>
<div class="t g vn" style="left:619.04px;width:200px;text-align:center;top:108.10px;font-size:5.8px;line-height:6.96px;">とぎつ海と緑の運動公園</div>
<div class="t g" style="left:690.28px;width:200px;text-align:center;top:84.18px;font-size:9.2px;line-height:11.04px;">G</div>
<div class="t g vn" style="left:690.28px;width:200px;text-align:center;top:103.79px;font-size:7.7px;line-height:9.24px;">長崎明誠高等学校</div>
<div class="t g vn" style="left:690.28px;width:200px;text-align:center;top:112.09px;font-size:7.7px;line-height:9.24px;">グラウンド</div>
<div class="t g st2" style="left:209.90px;width:200px;text-align:center;top:92.52px;font-size:8.8px;line-height:10.56px;">場</div>
<div class="t g st2" style="left:209.90px;width:200px;text-align:center;top:102.72px;font-size:8.8px;line-height:10.56px;">所</div>
<div class="t g" style="left:141.05px;width:200px;text-align:center;top:129.00px;font-size:10px;line-height:12.00px;">１回戦</div>
<div class="t g" style="left:141.05px;width:200px;text-align:center;top:142.40px;font-size:10px;line-height:12.00px;">5/31（土）</div>
<div class="t g" style="left:205.30px;width:200px;text-align:center;top:129.00px;font-size:10px;line-height:12.00px;">２回戦</div>
<div class="t g" style="left:205.30px;width:200px;text-align:center;top:142.40px;font-size:10px;line-height:12.00px;">6/1（日）</div>
<div class="t g" style="left:269.50px;width:200px;text-align:center;top:129.00px;font-size:10px;line-height:12.00px;">３回戦</div>
<div class="t g" style="left:269.50px;width:200px;text-align:center;top:142.40px;font-size:10px;line-height:12.00px;">6/2（月）</div>
<div class="t g" style="left:333.50px;width:200px;text-align:center;top:129.00px;font-size:10px;line-height:12.00px;">準々決勝</div>
<div class="t g" style="left:333.50px;width:200px;text-align:center;top:142.40px;font-size:10px;line-height:12.00px;">6/3（火）</div>
<div class="t g" style="left:397.05px;width:200px;text-align:center;top:129.00px;font-size:10px;line-height:12.00px;">準決勝</div>
<div class="t g" style="left:397.05px;width:200px;text-align:center;top:142.40px;font-size:10px;line-height:12.00px;">6/5（木）</div>
<div class="t g" style="left:460.45px;width:200px;text-align:center;top:129.00px;font-size:10px;line-height:12.00px;">決勝戦</div>
<div class="t g" style="left:460.45px;width:200px;text-align:center;top:142.40px;font-size:10px;line-height:12.00px;">6/6（金）</div>
<div class="t g" style="left:523.95px;width:200px;text-align:center;top:129.00px;font-size:10px;line-height:12.00px;">準決勝</div>
<div class="t g" style="left:523.95px;width:200px;text-align:center;top:142.40px;font-size:10px;line-height:12.00px;">6/5（木）</div>
<div class="t g" style="left:587.60px;width:200px;text-align:center;top:129.00px;font-size:10px;line-height:12.00px;">準々決勝</div>
<div class="t g" style="left:587.60px;width:200px;text-align:center;top:142.40px;font-size:10px;line-height:12.00px;">6/3（火）</div>
<div class="t g" style="left:651.85px;width:200px;text-align:center;top:129.00px;font-size:10px;line-height:12.00px;">３回戦</div>
<div class="t g" style="left:651.85px;width:200px;text-align:center;top:142.40px;font-size:10px;line-height:12.00px;">6/2（月）</div>
<div class="t g" style="left:717.35px;width:200px;text-align:center;top:129.00px;font-size:10px;line-height:12.00px;">２回戦</div>
<div class="t g" style="left:717.35px;width:200px;text-align:center;top:142.40px;font-size:10px;line-height:12.00px;">6/1（日）</div>
<div class="t g" style="left:782.90px;width:200px;text-align:center;top:129.00px;font-size:10px;line-height:12.00px;">１回戦</div>
<div class="t g" style="left:782.90px;width:200px;text-align:center;top:142.40px;font-size:10px;line-height:12.00px;">5/31（土）</div>
<div class="t g" style="left:100.00px;width:200px;text-align:center;top:129.50px;font-size:9px;line-height:10.80px;">期</div>
<div class="t g" style="left:100.00px;width:200px;text-align:center;top:142.50px;font-size:9px;line-height:10.80px;">日</div>
<div class="t n" style="left:90.80px;width:86.00px;text-align:justify;text-align-last:justify;top:186.08px;font-size:9.2px;line-height:11.04px;">国見</div>
<div class="t num c" style="left:100.20px;width:200px;text-align:center;top:185.38px;font-size:10.2px;line-height:12.24px;">1</div>
<div class="t n" style="left:90.80px;width:86.00px;text-align:justify;text-align-last:justify;top:204.28px;font-size:9.2px;line-height:11.04px;">西海学園</div>
<div class="t num c" style="left:100.20px;width:200px;text-align:center;top:203.58px;font-size:10.2px;line-height:12.24px;">2</div>
<div class="t n" style="left:90.80px;width:86.00px;text-align:justify;text-align-last:justify;top:222.48px;font-size:9.2px;line-height:11.04px;">佐世保東翔</div>
<div class="t num c" style="left:100.20px;width:200px;text-align:center;top:221.78px;font-size:10.2px;line-height:12.24px;">3</div>
<div class="t n" style="left:90.80px;width:86.00px;text-align:justify;text-align-last:justify;top:240.68px;font-size:9.2px;line-height:11.04px;">長崎東</div>
<div class="t num c" style="left:100.20px;width:200px;text-align:center;top:239.98px;font-size:10.2px;line-height:12.24px;">4</div>
<div class="t n" style="left:90.80px;width:86.00px;text-align:justify;text-align-last:justify;top:268.03px;font-size:9.2px;line-height:11.04px;">西陵</div>
<div class="t num c" style="left:100.20px;width:200px;text-align:center;top:267.33px;font-size:10.2px;line-height:12.24px;">5</div>
<div class="t n" style="left:90.80px;width:86.00px;text-align:justify;text-align-last:justify;top:295.03px;font-size:9.2px;line-height:11.04px;">平戸</div>
<div class="t num c" style="left:100.20px;width:200px;text-align:center;top:294.33px;font-size:10.2px;line-height:12.24px;">6</div>
<div class="t n" style="left:90.80px;width:86.00px;text-align:justify;text-align-last:justify;top:313.23px;font-size:9.2px;line-height:11.04px;">島原工業</div>
<div class="t num c" style="left:100.20px;width:200px;text-align:center;top:312.53px;font-size:10.2px;line-height:12.24px;">7</div>
<div class="t n" style="left:90.80px;width:86.00px;text-align:justify;text-align-last:justify;top:331.43px;font-size:9.2px;line-height:11.04px;">精道三川台</div>
<div class="t num c" style="left:100.20px;width:200px;text-align:center;top:330.73px;font-size:10.2px;line-height:12.24px;">8</div>
<div class="t n" style="left:90.80px;width:86.00px;text-align:justify;text-align-last:justify;top:349.63px;font-size:9.2px;line-height:11.04px;">長崎日大</div>
<div class="t num c" style="left:100.20px;width:200px;text-align:center;top:348.93px;font-size:10.2px;line-height:12.24px;">9</div>
<div class="t n" style="left:90.80px;width:86.00px;text-align:justify;text-align-last:justify;top:367.83px;font-size:9.2px;line-height:11.04px;">長崎北陽台</div>
<div class="t num c" style="left:100.20px;width:200px;text-align:center;top:367.13px;font-size:10.2px;line-height:12.24px;">10</div>
<div class="t n" style="left:90.80px;width:86.00px;text-align:justify;text-align-last:justify;top:386.03px;font-size:9.2px;line-height:11.04px;">佐世保実業</div>
<div class="t num c" style="left:100.20px;width:200px;text-align:center;top:385.33px;font-size:10.2px;line-height:12.24px;">11</div>
<div class="t n" style="left:90.80px;width:86.00px;text-align:justify;text-align-last:justify;top:458.08px;font-size:9.2px;line-height:11.04px;">長崎南</div>
<div class="t num c" style="left:100.20px;width:200px;text-align:center;top:457.38px;font-size:10.2px;line-height:12.24px;">12</div>
<div class="t n" style="left:90.80px;width:86.00px;text-align:justify;text-align-last:justify;top:476.28px;font-size:9.2px;line-height:11.04px;">口之津海上技術</div>
<div class="t num c" style="left:100.20px;width:200px;text-align:center;top:475.58px;font-size:10.2px;line-height:12.24px;">13</div>
<div class="t n" style="left:90.80px;width:86.00px;text-align:justify;text-align-last:justify;top:494.48px;font-size:9.2px;line-height:11.04px;">佐世保北</div>
<div class="t num c" style="left:100.20px;width:200px;text-align:center;top:493.78px;font-size:10.2px;line-height:12.24px;">14</div>
<div class="t n" style="left:90.80px;width:86.00px;text-align:justify;text-align-last:justify;top:512.68px;font-size:9.2px;line-height:11.04px;">青雲</div>
<div class="t num c" style="left:100.20px;width:200px;text-align:center;top:511.98px;font-size:10.2px;line-height:12.24px;">15</div>
<div class="t n" style="left:90.80px;width:86.00px;text-align:justify;text-align-last:justify;top:530.88px;font-size:9.2px;line-height:11.04px;">佐世保西</div>
<div class="t num c" style="left:100.20px;width:200px;text-align:center;top:530.18px;font-size:10.2px;line-height:12.24px;">16</div>
<div class="t n" style="left:90.80px;width:86.00px;text-align:justify;text-align-last:justify;top:549.08px;font-size:9.2px;line-height:11.04px;">西彼農業・西彼杵</div>
<div class="t num c" style="left:100.20px;width:200px;text-align:center;top:548.38px;font-size:10.2px;line-height:12.24px;">17</div>
<div class="t n" style="left:90.80px;width:86.00px;text-align:justify;text-align-last:justify;top:567.28px;font-size:9.2px;line-height:11.04px;">佐世保南</div>
<div class="t num c" style="left:100.20px;width:200px;text-align:center;top:566.58px;font-size:10.2px;line-height:12.24px;">18</div>
<div class="t n" style="left:90.80px;width:86.00px;text-align:justify;text-align-last:justify;top:585.48px;font-size:9.2px;line-height:11.04px;">諫早商業</div>
<div class="t num c" style="left:100.20px;width:200px;text-align:center;top:584.78px;font-size:10.2px;line-height:12.24px;">19</div>
<div class="t n" style="left:90.80px;width:86.00px;text-align:justify;text-align-last:justify;top:603.68px;font-size:9.2px;line-height:11.04px;">瓊浦</div>
<div class="t num c" style="left:100.20px;width:200px;text-align:center;top:602.98px;font-size:10.2px;line-height:12.24px;">20</div>
<div class="t n" style="left:90.80px;width:86.00px;text-align:justify;text-align-last:justify;top:621.88px;font-size:9.2px;line-height:11.04px;">島原中央</div>
<div class="t num c" style="left:100.20px;width:200px;text-align:center;top:621.18px;font-size:10.2px;line-height:12.24px;">21</div>
<div class="t n" style="left:90.80px;width:86.00px;text-align:justify;text-align-last:justify;top:640.08px;font-size:9.2px;line-height:11.04px;">佐世保高専</div>
<div class="t num c" style="left:100.20px;width:200px;text-align:center;top:639.38px;font-size:10.2px;line-height:12.24px;">22</div>
<div class="t n" style="left:90.80px;width:86.00px;text-align:justify;text-align-last:justify;top:658.28px;font-size:9.2px;line-height:11.04px;">鎮西学院</div>
<div class="t num c" style="left:100.20px;width:200px;text-align:center;top:657.58px;font-size:10.2px;line-height:12.24px;">23</div>
<div class="t num c" style="left:825.80px;width:200px;text-align:center;top:185.38px;font-size:10.2px;line-height:12.24px;">24</div>
<div class="t n" style="left:947.00px;width:85.00px;text-align:justify;text-align-last:justify;top:186.08px;font-size:9.2px;line-height:11.04px;">九州文化学園</div>
<div class="t num c" style="left:825.80px;width:200px;text-align:center;top:203.58px;font-size:10.2px;line-height:12.24px;">25</div>
<div class="t n" style="left:947.00px;width:85.00px;text-align:justify;text-align-last:justify;top:204.28px;font-size:9.2px;line-height:11.04px;">五島・五島海陽</div>
<div class="t num c" style="left:825.80px;width:200px;text-align:center;top:221.78px;font-size:10.2px;line-height:12.24px;">26</div>
<div class="t n" style="left:947.00px;width:85.00px;text-align:justify;text-align-last:justify;top:222.48px;font-size:9.2px;line-height:11.04px;">猶興館</div>
<div class="t num c" style="left:825.80px;width:200px;text-align:center;top:239.98px;font-size:10.2px;line-height:12.24px;">27</div>
<div class="t n" style="left:947.00px;width:85.00px;text-align:justify;text-align-last:justify;top:240.68px;font-size:9.2px;line-height:11.04px;">長崎北</div>
<div class="t num c" style="left:825.80px;width:200px;text-align:center;top:258.18px;font-size:10.2px;line-height:12.24px;">28</div>
<div class="t n" style="left:947.00px;width:85.00px;text-align:justify;text-align-last:justify;top:258.88px;font-size:9.2px;line-height:11.04px;">長崎西</div>
<div class="t num c" style="left:825.80px;width:200px;text-align:center;top:276.38px;font-size:10.2px;line-height:12.24px;">29</div>
<div class="t n" style="left:947.00px;width:85.00px;text-align:justify;text-align-last:justify;top:277.08px;font-size:9.2px;line-height:11.04px;">島原商業</div>
<div class="t num c" style="left:825.80px;width:200px;text-align:center;top:294.58px;font-size:10.2px;line-height:12.24px;">30</div>
<div class="t n" style="left:947.00px;width:85.00px;text-align:justify;text-align-last:justify;top:295.28px;font-size:9.2px;line-height:11.04px;">鹿町工業</div>
<div class="t num c" style="left:825.80px;width:200px;text-align:center;top:312.78px;font-size:10.2px;line-height:12.24px;">31</div>
<div class="t n" style="left:947.00px;width:85.00px;text-align:justify;text-align-last:justify;top:313.48px;font-size:9.2px;line-height:11.04px;">大村</div>
<div class="t num c" style="left:825.80px;width:200px;text-align:center;top:330.98px;font-size:10.2px;line-height:12.24px;">32</div>
<div class="t n" style="left:947.00px;width:85.00px;text-align:justify;text-align-last:justify;top:331.68px;font-size:9.2px;line-height:11.04px;">清峰</div>
<div class="t num c" style="left:825.80px;width:200px;text-align:center;top:349.18px;font-size:10.2px;line-height:12.24px;">33</div>
<div class="t n" style="left:947.00px;width:85.00px;text-align:justify;text-align-last:justify;top:349.88px;font-size:9.2px;line-height:11.04px;">口加</div>
<div class="t num c" style="left:825.80px;width:200px;text-align:center;top:367.38px;font-size:10.2px;line-height:12.24px;">34</div>
<div class="t n" style="left:947.00px;width:85.00px;text-align:justify;text-align-last:justify;top:368.08px;font-size:9.2px;line-height:11.04px;">佐世保商業</div>
<div class="t num c" style="left:825.80px;width:200px;text-align:center;top:385.58px;font-size:10.2px;line-height:12.24px;">35</div>
<div class="t n" style="left:947.00px;width:85.00px;text-align:justify;text-align-last:justify;top:386.28px;font-size:9.2px;line-height:11.04px;">創成館</div>
<div class="t num c" style="left:825.80px;width:200px;text-align:center;top:457.38px;font-size:10.2px;line-height:12.24px;">36</div>
<div class="t n" style="left:947.00px;width:85.00px;text-align:justify;text-align-last:justify;top:458.08px;font-size:9.2px;line-height:11.04px;">長崎南山</div>
<div class="t num c" style="left:825.80px;width:200px;text-align:center;top:475.58px;font-size:10.2px;line-height:12.24px;">37</div>
<div class="t n" style="left:947.00px;width:85.00px;text-align:justify;text-align-last:justify;top:476.28px;font-size:9.2px;line-height:11.04px;">壱岐</div>
<div class="t num c" style="left:825.80px;width:200px;text-align:center;top:493.78px;font-size:10.2px;line-height:12.24px;">38</div>
<div class="t n" style="left:947.00px;width:85.00px;text-align:justify;text-align-last:justify;top:494.48px;font-size:9.2px;line-height:11.04px;">長崎工業</div>
<div class="t num c" style="left:825.80px;width:200px;text-align:center;top:511.98px;font-size:10.2px;line-height:12.24px;">39</div>
<div class="t n" style="left:947.00px;width:85.00px;text-align:justify;text-align-last:justify;top:512.68px;font-size:9.2px;line-height:11.04px;">大村工業</div>
<div class="t num c" style="left:825.80px;width:200px;text-align:center;top:530.18px;font-size:10.2px;line-height:12.24px;">40</div>
<div class="t n" style="left:947.00px;width:85.00px;text-align:justify;text-align-last:justify;top:530.88px;font-size:9.2px;line-height:11.04px;">海星</div>
<div class="t num c" style="left:825.80px;width:200px;text-align:center;top:548.38px;font-size:10.2px;line-height:12.24px;">41</div>
<div class="t n" style="left:947.00px;width:85.00px;text-align:justify;text-align-last:justify;top:549.08px;font-size:9.2px;line-height:11.04px;">島原</div>
<div class="t num c" style="left:825.80px;width:200px;text-align:center;top:566.58px;font-size:10.2px;line-height:12.24px;">42</div>
<div class="t n" style="left:947.00px;width:85.00px;text-align:justify;text-align-last:justify;top:567.28px;font-size:9.2px;line-height:11.04px;">佐世保工業</div>
<div class="t num c" style="left:825.80px;width:200px;text-align:center;top:584.78px;font-size:10.2px;line-height:12.24px;">43</div>
<div class="t n" style="left:947.00px;width:85.00px;text-align:justify;text-align-last:justify;top:585.48px;font-size:9.2px;line-height:11.04px;">長崎明誠</div>
<div class="t num c" style="left:825.80px;width:200px;text-align:center;top:602.98px;font-size:10.2px;line-height:12.24px;">44</div>
<div class="t n" style="left:947.00px;width:85.00px;text-align:justify;text-align-last:justify;top:603.68px;font-size:9.2px;line-height:11.04px;">対馬</div>
<div class="t num c" style="left:825.80px;width:200px;text-align:center;top:621.18px;font-size:10.2px;line-height:12.24px;">45</div>
<div class="t n" style="left:947.00px;width:85.00px;text-align:justify;text-align-last:justify;top:621.88px;font-size:9.2px;line-height:11.04px;">諫早</div>
<div class="t num c" style="left:825.80px;width:200px;text-align:center;top:639.38px;font-size:10.2px;line-height:12.24px;">46</div>
<div class="t n" style="left:947.00px;width:85.00px;text-align:justify;text-align-last:justify;top:640.08px;font-size:9.2px;line-height:11.04px;">上五島</div>
<div class="t num c" style="left:825.80px;width:200px;text-align:center;top:657.58px;font-size:10.2px;line-height:12.24px;">47</div>
<div class="t n" style="left:947.00px;width:85.00px;text-align:justify;text-align-last:justify;top:658.28px;font-size:9.2px;line-height:11.04px;">長崎総科大附属</div>
<div class="t sc r" style="right:827.70px;top:226.96px;font-size:8.4px;line-height:10.08px;">0&#8211;5</div>
<div class="t sc r" style="right:827.70px;top:236.16px;font-size:8.4px;line-height:10.08px;">0&#8211;5</div>
<div class="t sc l" style="left:274.70px;top:226.96px;font-size:8.4px;line-height:10.08px;">0</div>
<div class="t sc l" style="left:274.70px;top:236.16px;font-size:8.4px;line-height:10.08px;">10</div>
<div class="t sc r" style="right:827.70px;top:299.51px;font-size:8.4px;line-height:10.08px;">0&#8211;0</div>
<div class="t sc r" style="right:827.70px;top:308.71px;font-size:8.4px;line-height:10.08px;">1&#8211;0</div>
<div class="t sc l" style="left:274.70px;top:299.51px;font-size:8.4px;line-height:10.08px;">1</div>
<div class="t sc l" style="left:274.70px;top:308.71px;font-size:8.4px;line-height:10.08px;">0</div>
<div class="t sc r" style="right:827.70px;top:335.91px;font-size:8.4px;line-height:10.08px;">0&#8211;1</div>
<div class="t sc r" style="right:827.70px;top:345.11px;font-size:8.4px;line-height:10.08px;">0&#8211;0</div>
<div class="t sc l" style="left:274.70px;top:335.91px;font-size:8.4px;line-height:10.08px;">0</div>
<div class="t sc l" style="left:274.70px;top:345.11px;font-size:8.4px;line-height:10.08px;">1</div>
<div class="t sc r" style="right:827.70px;top:498.96px;font-size:8.4px;line-height:10.08px;">1&#8211;0</div>
<div class="t sc r" style="right:827.70px;top:508.16px;font-size:8.4px;line-height:10.08px;">0&#8211;0</div>
<div class="t sc l" style="left:274.70px;top:498.96px;font-size:8.4px;line-height:10.08px;">1</div>
<div class="t sc l" style="left:274.70px;top:508.16px;font-size:8.4px;line-height:10.08px;">0</div>
<div class="t sc r" style="right:827.70px;top:535.36px;font-size:8.4px;line-height:10.08px;">2&#8211;0</div>
<div class="t sc r" style="right:827.70px;top:544.56px;font-size:8.4px;line-height:10.08px;">1&#8211;0</div>
<div class="t sc l" style="left:274.70px;top:535.36px;font-size:8.4px;line-height:10.08px;">3</div>
<div class="t sc l" style="left:274.70px;top:544.56px;font-size:8.4px;line-height:10.08px;">0</div>
<div class="t sc r" style="right:827.70px;top:571.76px;font-size:8.4px;line-height:10.08px;">0&#8211;2</div>
<div class="t sc r" style="right:827.70px;top:580.96px;font-size:8.4px;line-height:10.08px;">0&#8211;2</div>
<div class="t sc l" style="left:274.70px;top:571.76px;font-size:8.4px;line-height:10.08px;">0</div>
<div class="t sc l" style="left:274.70px;top:580.96px;font-size:8.4px;line-height:10.08px;">4</div>
<div class="t sc r" style="right:827.70px;top:608.16px;font-size:8.4px;line-height:10.08px;">0&#8211;0</div>
<div class="t sc r" style="right:827.70px;top:617.36px;font-size:8.4px;line-height:10.08px;">1&#8211;0</div>
<div class="t sc l" style="left:274.70px;top:608.16px;font-size:8.4px;line-height:10.08px;">1</div>
<div class="t sc l" style="left:274.70px;top:617.36px;font-size:8.4px;line-height:10.08px;">0</div>
<div class="t sc r" style="right:763.30px;top:190.56px;font-size:8.4px;line-height:10.08px;">8&#8211;0</div>
<div class="t sc r" style="right:763.30px;top:199.76px;font-size:8.4px;line-height:10.08px;">2&#8211;0</div>
<div class="t sc l" style="left:339.10px;top:190.56px;font-size:8.4px;line-height:10.08px;">10</div>
<div class="t sc l" style="left:339.10px;top:199.76px;font-size:8.4px;line-height:10.08px;">0</div>
<div class="t sc r" style="right:763.30px;top:245.19px;font-size:8.4px;line-height:10.08px;">1&#8211;3, 3&#8211;1</div>
<div class="t sc r" style="right:763.30px;top:254.39px;font-size:8.4px;line-height:10.08px;">0&#8211;0, 0&#8211;0</div>
<div class="t sc l" style="left:339.10px;top:245.19px;font-size:8.4px;line-height:10.08px;">4&nbsp;&nbsp;P1</div>
<div class="t sc l" style="left:339.10px;top:254.39px;font-size:8.4px;line-height:10.08px;">4&nbsp;&nbsp;K4</div>
<div class="t sc r" style="right:763.30px;top:317.71px;font-size:8.4px;line-height:10.08px;">0&#8211;3</div>
<div class="t sc r" style="right:763.30px;top:326.91px;font-size:8.4px;line-height:10.08px;">0&#8211;6</div>
<div class="t sc l" style="left:339.10px;top:317.71px;font-size:8.4px;line-height:10.08px;">0</div>
<div class="t sc l" style="left:339.10px;top:326.91px;font-size:8.4px;line-height:10.08px;">9</div>
<div class="t sc r" style="right:763.30px;top:372.31px;font-size:8.4px;line-height:10.08px;">1&#8211;0</div>
<div class="t sc r" style="right:763.30px;top:381.51px;font-size:8.4px;line-height:10.08px;">1&#8211;3</div>
<div class="t sc l" style="left:339.10px;top:372.31px;font-size:8.4px;line-height:10.08px;">2</div>
<div class="t sc l" style="left:339.10px;top:381.51px;font-size:8.4px;line-height:10.08px;">3</div>
<div class="t sc r" style="right:763.30px;top:462.56px;font-size:8.4px;line-height:10.08px;">6&#8211;1</div>
<div class="t sc r" style="right:763.30px;top:471.76px;font-size:8.4px;line-height:10.08px;">5&#8211;0</div>
<div class="t sc l" style="left:339.10px;top:462.56px;font-size:8.4px;line-height:10.08px;">11</div>
<div class="t sc l" style="left:339.10px;top:471.76px;font-size:8.4px;line-height:10.08px;">1</div>
<div class="t sc r" style="right:763.30px;top:517.16px;font-size:8.4px;line-height:10.08px;">0&#8211;1</div>
<div class="t sc r" style="right:763.30px;top:526.36px;font-size:8.4px;line-height:10.08px;">0&#8211;2</div>
<div class="t sc l" style="left:339.10px;top:517.16px;font-size:8.4px;line-height:10.08px;">0</div>
<div class="t sc l" style="left:339.10px;top:526.36px;font-size:8.4px;line-height:10.08px;">3</div>
<div class="t sc r" style="right:763.30px;top:589.96px;font-size:8.4px;line-height:10.08px;">0&#8211;0, 0&#8211;0</div>
<div class="t sc r" style="right:763.30px;top:599.16px;font-size:8.4px;line-height:10.08px;">0&#8211;0, 0&#8211;0</div>
<div class="t sc l" style="left:339.10px;top:589.96px;font-size:8.4px;line-height:10.08px;">0&nbsp;&nbsp;P7</div>
<div class="t sc l" style="left:339.10px;top:599.16px;font-size:8.4px;line-height:10.08px;">0&nbsp;&nbsp;K6</div>
<div class="t sc r" style="right:763.30px;top:644.56px;font-size:8.4px;line-height:10.08px;">0&#8211;9</div>
<div class="t sc r" style="right:763.30px;top:653.76px;font-size:8.4px;line-height:10.08px;">0&#8211;7</div>
<div class="t sc l" style="left:339.10px;top:644.56px;font-size:8.4px;line-height:10.08px;">0</div>
<div class="t sc l" style="left:339.10px;top:653.76px;font-size:8.4px;line-height:10.08px;">16</div>
<div class="t sc r" style="right:699.30px;top:217.87px;font-size:8.4px;line-height:10.08px;">4&#8211;0</div>
<div class="t sc r" style="right:699.30px;top:227.07px;font-size:8.4px;line-height:10.08px;">4&#8211;0</div>
<div class="t sc l" style="left:403.10px;top:217.87px;font-size:8.4px;line-height:10.08px;">8</div>
<div class="t sc l" style="left:403.10px;top:227.07px;font-size:8.4px;line-height:10.08px;">0</div>
<div class="t sc r" style="right:699.30px;top:345.01px;font-size:8.4px;line-height:10.08px;">1&#8211;0</div>
<div class="t sc r" style="right:699.30px;top:354.21px;font-size:8.4px;line-height:10.08px;">3&#8211;0</div>
<div class="t sc l" style="left:403.10px;top:345.01px;font-size:8.4px;line-height:10.08px;">4</div>
<div class="t sc l" style="left:403.10px;top:354.21px;font-size:8.4px;line-height:10.08px;">0</div>
<div class="t sc r" style="right:699.30px;top:489.86px;font-size:8.4px;line-height:10.08px;">2&#8211;1</div>
<div class="t sc r" style="right:699.30px;top:499.06px;font-size:8.4px;line-height:10.08px;">2&#8211;2</div>
<div class="t sc l" style="left:403.10px;top:489.86px;font-size:8.4px;line-height:10.08px;">4</div>
<div class="t sc l" style="left:403.10px;top:499.06px;font-size:8.4px;line-height:10.08px;">3</div>
<div class="t sc r" style="right:699.30px;top:617.26px;font-size:8.4px;line-height:10.08px;">0&#8211;0, 0&#8211;0</div>
<div class="t sc r" style="right:699.30px;top:626.46px;font-size:8.4px;line-height:10.08px;">0&#8211;0, 0&#8211;0</div>
<div class="t sc l" style="left:403.10px;top:617.26px;font-size:8.4px;line-height:10.08px;">0&nbsp;&nbsp;P4</div>
<div class="t sc l" style="left:403.10px;top:626.46px;font-size:8.4px;line-height:10.08px;">0&nbsp;&nbsp;K5</div>
<div class="t sc r" style="right:635.30px;top:281.44px;font-size:8.4px;line-height:10.08px;">0&#8211;0</div>
<div class="t sc r" style="right:635.30px;top:290.64px;font-size:8.4px;line-height:10.08px;">2&#8211;0</div>
<div class="t sc l" style="left:467.10px;top:281.44px;font-size:8.4px;line-height:10.08px;">2</div>
<div class="t sc l" style="left:467.10px;top:290.64px;font-size:8.4px;line-height:10.08px;">0</div>
<div class="t sc r" style="right:635.30px;top:553.56px;font-size:8.4px;line-height:10.08px;">0&#8211;1</div>
<div class="t sc r" style="right:635.30px;top:562.76px;font-size:8.4px;line-height:10.08px;">0&#8211;4</div>
<div class="t sc l" style="left:467.10px;top:553.56px;font-size:8.4px;line-height:10.08px;">0</div>
<div class="t sc l" style="left:467.10px;top:562.76px;font-size:8.4px;line-height:10.08px;">3</div>
<div class="t sc l" style="left:852.40px;top:226.96px;font-size:8.4px;line-height:10.08px;">1&#8211;2</div>
<div class="t sc l" style="left:852.40px;top:236.16px;font-size:8.4px;line-height:10.08px;">0&#8211;4</div>
<div class="t sc r" style="right:250.20px;top:226.96px;font-size:8.4px;line-height:10.08px;">1</div>
<div class="t sc r" style="right:250.20px;top:236.16px;font-size:8.4px;line-height:10.08px;">6</div>
<div class="t sc l" style="left:852.40px;top:263.36px;font-size:8.4px;line-height:10.08px;">0&#8211;2</div>
<div class="t sc l" style="left:852.40px;top:272.56px;font-size:8.4px;line-height:10.08px;">0&#8211;0</div>
<div class="t sc r" style="right:250.20px;top:263.36px;font-size:8.4px;line-height:10.08px;">0</div>
<div class="t sc r" style="right:250.20px;top:272.56px;font-size:8.4px;line-height:10.08px;">2</div>
<div class="t sc l" style="left:852.40px;top:299.76px;font-size:8.4px;line-height:10.08px;">0&#8211;3</div>
<div class="t sc l" style="left:852.40px;top:308.96px;font-size:8.4px;line-height:10.08px;">0&#8211;3</div>
<div class="t sc r" style="right:250.20px;top:299.76px;font-size:8.4px;line-height:10.08px;">0</div>
<div class="t sc r" style="right:250.20px;top:308.96px;font-size:8.4px;line-height:10.08px;">6</div>
<div class="t sc l" style="left:852.40px;top:336.16px;font-size:8.4px;line-height:10.08px;">5&#8211;1</div>
<div class="t sc l" style="left:852.40px;top:345.36px;font-size:8.4px;line-height:10.08px;">0&#8211;0</div>
<div class="t sc r" style="right:250.20px;top:336.16px;font-size:8.4px;line-height:10.08px;">5</div>
<div class="t sc r" style="right:250.20px;top:345.36px;font-size:8.4px;line-height:10.08px;">1</div>
<div class="t sc l" style="left:852.40px;top:498.96px;font-size:8.4px;line-height:10.08px;">0&#8211;0</div>
<div class="t sc l" style="left:852.40px;top:508.16px;font-size:8.4px;line-height:10.08px;">0&#8211;2</div>
<div class="t sc r" style="right:250.20px;top:498.96px;font-size:8.4px;line-height:10.08px;">0</div>
<div class="t sc r" style="right:250.20px;top:508.16px;font-size:8.4px;line-height:10.08px;">2</div>
<div class="t sc l" style="left:852.40px;top:535.36px;font-size:8.4px;line-height:10.08px;">0&#8211;0</div>
<div class="t sc l" style="left:852.40px;top:544.56px;font-size:8.4px;line-height:10.08px;">0&#8211;0</div>
<div class="t sc r" style="right:250.20px;top:535.36px;font-size:8.4px;line-height:10.08px;">0&nbsp;&nbsp;P2</div>
<div class="t sc r" style="right:250.20px;top:544.56px;font-size:8.4px;line-height:10.08px;">0&nbsp;&nbsp;K4</div>
<div class="t sc l" style="left:852.40px;top:571.76px;font-size:8.4px;line-height:10.08px;">2&#8211;0</div>
<div class="t sc l" style="left:852.40px;top:580.96px;font-size:8.4px;line-height:10.08px;">1&#8211;1</div>
<div class="t sc r" style="right:250.20px;top:571.76px;font-size:8.4px;line-height:10.08px;">3</div>
<div class="t sc r" style="right:250.20px;top:580.96px;font-size:8.4px;line-height:10.08px;">1</div>
<div class="t sc l" style="left:852.40px;top:608.16px;font-size:8.4px;line-height:10.08px;">0&#8211;2</div>
<div class="t sc l" style="left:852.40px;top:617.36px;font-size:8.4px;line-height:10.08px;">0&#8211;0</div>
<div class="t sc r" style="right:250.20px;top:608.16px;font-size:8.4px;line-height:10.08px;">0</div>
<div class="t sc r" style="right:250.20px;top:617.36px;font-size:8.4px;line-height:10.08px;">2</div>
<div class="t sc l" style="left:785.90px;top:190.56px;font-size:8.4px;line-height:10.08px;">11&#8211;0</div>
<div class="t sc l" style="left:785.90px;top:199.76px;font-size:8.4px;line-height:10.08px;">12&#8211;0</div>
<div class="t sc r" style="right:316.70px;top:190.56px;font-size:8.4px;line-height:10.08px;">23</div>
<div class="t sc r" style="right:316.70px;top:199.76px;font-size:8.4px;line-height:10.08px;">0</div>
<div class="t sc l" style="left:785.90px;top:245.16px;font-size:8.4px;line-height:10.08px;">1&#8211;0</div>
<div class="t sc l" style="left:785.90px;top:254.36px;font-size:8.4px;line-height:10.08px;">1&#8211;0</div>
<div class="t sc r" style="right:316.70px;top:245.16px;font-size:8.4px;line-height:10.08px;">2</div>
<div class="t sc r" style="right:316.70px;top:254.36px;font-size:8.4px;line-height:10.08px;">0</div>
<div class="t sc l" style="left:785.90px;top:317.96px;font-size:8.4px;line-height:10.08px;">3&#8211;0</div>
<div class="t sc l" style="left:785.90px;top:327.16px;font-size:8.4px;line-height:10.08px;">5&#8211;1</div>
<div class="t sc r" style="right:316.70px;top:317.96px;font-size:8.4px;line-height:10.08px;">8</div>
<div class="t sc r" style="right:316.70px;top:327.16px;font-size:8.4px;line-height:10.08px;">1</div>
<div class="t sc l" style="left:785.90px;top:372.56px;font-size:8.4px;line-height:10.08px;">0&#8211;14</div>
<div class="t sc l" style="left:785.90px;top:381.76px;font-size:8.4px;line-height:10.08px;">0&#8211;16</div>
<div class="t sc r" style="right:316.70px;top:372.56px;font-size:8.4px;line-height:10.08px;">0</div>
<div class="t sc r" style="right:316.70px;top:381.76px;font-size:8.4px;line-height:10.08px;">30</div>
<div class="t sc l" style="left:785.90px;top:462.56px;font-size:8.4px;line-height:10.08px;">1&#8211;0</div>
<div class="t sc l" style="left:785.90px;top:471.76px;font-size:8.4px;line-height:10.08px;">4&#8211;0</div>
<div class="t sc r" style="right:316.70px;top:462.56px;font-size:8.4px;line-height:10.08px;">5</div>
<div class="t sc r" style="right:316.70px;top:471.76px;font-size:8.4px;line-height:10.08px;">0</div>
<div class="t sc l" style="left:785.90px;top:517.16px;font-size:8.4px;line-height:10.08px;">0&#8211;0, 0&#8211;0</div>
<div class="t sc l" style="left:785.90px;top:526.36px;font-size:8.4px;line-height:10.08px;">0&#8211;0, 0&#8211;0</div>
<div class="t sc r" style="right:316.70px;top:517.16px;font-size:8.4px;line-height:10.08px;">0&nbsp;&nbsp;P7</div>
<div class="t sc r" style="right:316.70px;top:526.36px;font-size:8.4px;line-height:10.08px;">0&nbsp;&nbsp;K6</div>
<div class="t sc l" style="left:785.90px;top:589.96px;font-size:8.4px;line-height:10.08px;">0&#8211;0</div>
<div class="t sc l" style="left:785.90px;top:599.16px;font-size:8.4px;line-height:10.08px;">1&#8211;0</div>
<div class="t sc r" style="right:316.70px;top:589.96px;font-size:8.4px;line-height:10.08px;">1</div>
<div class="t sc r" style="right:316.70px;top:599.16px;font-size:8.4px;line-height:10.08px;">0</div>
<div class="t sc l" style="left:785.90px;top:644.56px;font-size:8.4px;line-height:10.08px;">0&#8211;2</div>
<div class="t sc l" style="left:785.90px;top:653.76px;font-size:8.4px;line-height:10.08px;">0&#8211;3</div>
<div class="t sc r" style="right:316.70px;top:644.56px;font-size:8.4px;line-height:10.08px;">0</div>
<div class="t sc r" style="right:316.70px;top:653.76px;font-size:8.4px;line-height:10.08px;">3</div>
<div class="t sc l" style="left:721.40px;top:217.86px;font-size:8.4px;line-height:10.08px;">1&#8211;1</div>
<div class="t sc l" style="left:721.40px;top:227.06px;font-size:8.4px;line-height:10.08px;">2&#8211;1</div>
<div class="t sc r" style="right:381.20px;top:217.86px;font-size:8.4px;line-height:10.08px;">3</div>
<div class="t sc r" style="right:381.20px;top:227.06px;font-size:8.4px;line-height:10.08px;">2</div>
<div class="t sc l" style="left:721.40px;top:345.26px;font-size:8.4px;line-height:10.08px;">0&#8211;1</div>
<div class="t sc l" style="left:721.40px;top:354.46px;font-size:8.4px;line-height:10.08px;">3&#8211;3</div>
<div class="t sc r" style="right:381.20px;top:345.26px;font-size:8.4px;line-height:10.08px;">3</div>
<div class="t sc r" style="right:381.20px;top:354.46px;font-size:8.4px;line-height:10.08px;">4</div>
<div class="t sc l" style="left:721.40px;top:489.86px;font-size:8.4px;line-height:10.08px;">2&#8211;0</div>
<div class="t sc l" style="left:721.40px;top:499.06px;font-size:8.4px;line-height:10.08px;">3&#8211;0</div>
<div class="t sc r" style="right:381.20px;top:489.86px;font-size:8.4px;line-height:10.08px;">5</div>
<div class="t sc r" style="right:381.20px;top:499.06px;font-size:8.4px;line-height:10.08px;">0</div>
<div class="t sc l" style="left:721.40px;top:617.26px;font-size:8.4px;line-height:10.08px;">0&#8211;1</div>
<div class="t sc l" style="left:721.40px;top:626.46px;font-size:8.4px;line-height:10.08px;">0&#8211;2</div>
<div class="t sc r" style="right:381.20px;top:617.26px;font-size:8.4px;line-height:10.08px;">0</div>
<div class="t sc r" style="right:381.20px;top:626.46px;font-size:8.4px;line-height:10.08px;">3</div>
<div class="t sc l" style="left:657.40px;top:281.56px;font-size:8.4px;line-height:10.08px;">1&#8211;1</div>
<div class="t sc l" style="left:657.40px;top:290.76px;font-size:8.4px;line-height:10.08px;">2&#8211;1</div>
<div class="t sc r" style="right:445.20px;top:281.56px;font-size:8.4px;line-height:10.08px;">3</div>
<div class="t sc r" style="right:445.20px;top:290.76px;font-size:8.4px;line-height:10.08px;">2</div>
<div class="t sc l" style="left:657.40px;top:553.56px;font-size:8.4px;line-height:10.08px;">0&#8211;0</div>
<div class="t sc l" style="left:657.40px;top:562.76px;font-size:8.4px;line-height:10.08px;">0&#8211;1</div>
<div class="t sc r" style="right:445.20px;top:553.56px;font-size:8.4px;line-height:10.08px;">0</div>
<div class="t sc r" style="right:445.20px;top:562.76px;font-size:8.4px;line-height:10.08px;">1</div>
<div class="t sc r" style="right:572.20px;top:417.30px;font-size:8.4px;line-height:10.08px;">0&#8211;0</div>
<div class="t sc r" style="right:572.20px;top:426.90px;font-size:8.4px;line-height:10.08px;">0&#8211;2</div>
<div class="t sc l" style="left:530.20px;top:417.30px;font-size:8.4px;line-height:10.08px;">0</div>
<div class="t sc l" style="left:530.20px;top:426.90px;font-size:8.4px;line-height:10.08px;">2</div>
<div class="t sc r" style="right:508.50px;top:417.30px;font-size:8.4px;line-height:10.08px;">2</div>
<div class="t sc r" style="right:508.50px;top:426.90px;font-size:8.4px;line-height:10.08px;">3</div>
<div class="t sc l" style="left:594.10px;top:406.90px;font-size:8.4px;line-height:10.08px;">0&#8211;0</div>
<div class="t sc l" style="left:594.10px;top:416.60px;font-size:8.4px;line-height:10.08px;">1&#8211;1</div>
<div class="t sc l" style="left:594.10px;top:426.30px;font-size:8.4px;line-height:10.08px;">1&#8211;0</div>
<div class="t sc l" style="left:594.10px;top:435.50px;font-size:8.4px;line-height:10.08px;">0&#8211;2</div>
<div class="t b" style="left:458.70px;width:200px;text-align:center;top:166.92px;font-size:10.8px;line-height:12.96px;">優　勝</div>
<div class="t sc2 r" style="right:544.40px;top:193.08px;font-size:11.2px;line-height:13.44px;">A1</div>
<div class="t sc2 l" style="left:561.00px;top:193.08px;font-size:11.2px;line-height:13.44px;">13:00</div>
</div>
</body></html>
